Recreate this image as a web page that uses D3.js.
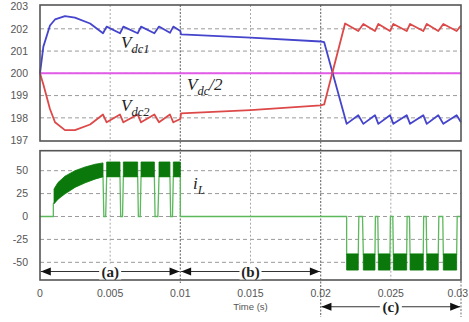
<!DOCTYPE html>
<html><head><meta charset="utf-8">
<script src="https://cdn.jsdelivr.net/npm/d3@7"></script>
<style>html,body{margin:0;padding:0;background:#fff;} svg{display:block;}</style>
</head><body>
<svg id="c" width="469" height="322"></svg>
<script>
// ---------- data ----------
const xTicks = [0, 0.005, 0.01, 0.015, 0.02, 0.025, 0.03];
const xTickLabels = ["0", "0.005", "0.01", "0.015", "0.02", "0.025", "0.03"];
const vTicks = [197, 198, 199, 200, 201, 202, 203];
const iTicks = [-50, -25, 0, 25, 50];

// Vdc1 (blue)
const v1T = [0, 0.00024, 0.00071, 0.00107, 0.00178, 0.00249, 0.00357, 0.00449, 0.00475, 0.0057, 0.00594, 0.00696, 0.0072, 0.00815, 0.00848, 0.00926, 0.0095, 0.0100, 0.01005, 0.015, 0.0200, 0.02025, 0.02185, 0.02268, 0.02304, 0.02387, 0.02411, 0.02494, 0.02518, 0.02613, 0.02637, 0.02731, 0.02756, 0.02838, 0.02874, 0.02969, 0.0300];
const v1 = [200, 201.2, 202.15, 202.42, 202.57, 202.5, 202.24, 201.8, 202.1, 201.8, 202.1, 201.8, 202.1, 201.8, 202.1, 201.82, 202.1, 201.9, 201.75, 201.6, 201.43, 201.4, 197.73, 198.12, 197.73, 198.12, 197.73, 198.12, 197.73, 198.12, 197.73, 198.12, 197.73, 198.12, 197.73, 198.12, 197.8];
// Vdc2 (red)
const v2T = [0, 0.00024, 0.00071, 0.00107, 0.00178, 0.00249, 0.00357, 0.00449, 0.00475, 0.0057, 0.00594, 0.00696, 0.0072, 0.00815, 0.00848, 0.00926, 0.0095, 0.0100, 0.01005, 0.015, 0.0200, 0.02025, 0.02174, 0.02268, 0.02304, 0.02387, 0.02411, 0.02494, 0.02518, 0.02613, 0.02637, 0.02731, 0.02756, 0.02838, 0.02874, 0.02969, 0.0300];
const v2 = [200, 199.5, 198.4, 197.8, 197.45, 197.45, 197.7, 198.15, 197.8, 198.15, 197.8, 198.15, 197.8, 198.15, 197.8, 198.15, 197.8, 197.95, 198.2, 198.35, 198.56, 198.6, 202.24, 201.9, 202.22, 201.9, 202.22, 201.9, 202.22, 201.9, 202.22, 201.9, 202.22, 201.9, 202.22, 201.9, 202.15];
// Vdc/2 (magenta)
const vHalfT = [0, 0.03];
const vHalf = [200, 200];

// iL switching band envelope (null = gap)
const bandT  = [0.00100, 0.00128, 0.00178, 0.00249, 0.00321, 0.00392, 0.00449, null, 0.00475, 0.0057, null, 0.00594, 0.00696, null, 0.0072, 0.00815, null, 0.00848, 0.00926, null, 0.0095, 0.0100, null,
                0.02185, 0.02268, null, 0.02304, 0.02387, null, 0.02411, 0.02494, null, 0.02518, 0.02613, null, 0.02637, 0.02731, null, 0.02756, 0.02838, null, 0.02874, 0.02969];
const bandHi = [30, 37, 44, 50, 54, 57, 58.5, null, 59.5, 59.5, null, 59.5, 59.5, null, 59.5, 59.5, null, 59.5, 59.5, null, 59.5, 59.5, null,
                -41, -41, null, -41, -41, null, -41, -41, null, -41, -41, null, -41, -41, null, -41, -41, null, -41, -41];
const bandLo = [14, 19, 25, 32, 37, 41, 43.5, null, 43.5, 43.5, null, 43.5, 43.5, null, 43.5, 43.5, null, 43.5, 43.5, null, 43.5, 43.5, null,
                -58.5, -58.5, null, -58.5, -58.5, null, -58.5, -58.5, null, -58.5, -58.5, null, -58.5, -58.5, null, -58.5, -58.5, null, -58.5, -58.5];
// iL outline trace (notches)
const iT = [0, 0.00095, 0.00095, 0.00128, 0.00178, 0.00249, 0.00321, 0.00392, 0.00449, 0.00455, 0.00468, 0.00475,
            0.0057, 0.00575, 0.00588, 0.00594, 0.00696, 0.00701, 0.00714, 0.0072, 0.00815, 0.0082, 0.0084, 0.00848,
            0.00926, 0.00931, 0.00944, 0.0095, 0.0100, 0.0100, 0.02185, 0.02185, 0.02268, 0.02272, 0.02298, 0.02304,
            0.02387, 0.0239, 0.02407, 0.02411, 0.02494, 0.02497, 0.02514, 0.02518, 0.02613, 0.02616, 0.02633, 0.02637,
            0.02731, 0.02734, 0.02752, 0.02756, 0.02838, 0.02842, 0.0287, 0.02874, 0.02969, 0.02973, 0.0300];
const iV = [0, 0, 14, 19, 25, 32, 37, 41, 43.5, 0, 0, 43.5,
            43.5, 0, 0, 43.5, 43.5, 0, 0, 43.5, 43.5, 0, 0, 43.5,
            43.5, 0, 0, 43.5, 43.5, 0, 0, -41, -41, 0, 0, -41,
            -41, 0, 0, -41, -41, 0, 0, -41, -41, 0, 0, -41,
            -41, 0, 0, -41, -41, 0, 0, -41, -41, 0, 0];

// section annotations
const secStart = [0, 0.01, 0.02];
const secEnd = [0.01, 0.02, 0.03];
const secLabels = ["(a)", "(b)", "(c)"];

// ---------- drawing ----------
const svg = d3.select("#c");
const x = d3.scaleLinear().domain([0, 0.03]).range([40, 461]);
const yV = d3.scaleLinear().domain([196.96, 203.07]).range([141, 5]);
const yI = d3.scaleLinear().domain([-69.3, 71.8]).range([280, 150.7]);

const sansFont = "'Liberation Sans', Arial, sans-serif";
const serifFont = "'Liberation Serif', 'Times New Roman', serif";

function hgrid(scale, ticks) {
  svg.append("g").selectAll("line").data(ticks).join("line")
    .attr("x1", x(0)).attr("x2", x(0.03))
    .attr("y1", d => scale(d)).attr("y2", d => scale(d))
    .attr("stroke", "#9a9a9a").attr("stroke-width", 1).attr("stroke-dasharray", "4,3");
}
hgrid(yV, vTicks.slice(1, -1));
hgrid(yI, iTicks);

// vertical grid (light)
[[yV, 203.07, 196.96], [yI, 71.8, -69.3]].forEach(([s, top, bot]) => {
  svg.append("g").selectAll("line").data([0.005, 0.015, 0.025]).join("line")
    .attr("x1", d => x(d)).attr("x2", d => x(d))
    .attr("y1", s(top)).attr("y2", s(bot))
    .attr("stroke", "#a8a8a8").attr("stroke-width", 1).attr("stroke-dasharray", "2,2");
});
// section separators (darker)
svg.append("line").attr("x1", x(0.01)).attr("x2", x(0.01)).attr("y1", yV(203.07)).attr("y2", 283)
  .attr("stroke", "#777").attr("stroke-width", 1.2).attr("stroke-dasharray", "2,1.5");
svg.append("line").attr("x1", x(0.02)).attr("x2", x(0.02)).attr("y1", yV(203.07)).attr("y2", 317)
  .attr("stroke", "#777").attr("stroke-width", 1.2).attr("stroke-dasharray", "2,1.5");
svg.append("line").attr("x1", x(0.03)).attr("x2", x(0.03)).attr("y1", 281).attr("y2", 317)
  .attr("stroke", "#888").attr("stroke-width", 1.2).attr("stroke-dasharray", "2,1.5");

// voltage lines
const mk = (T, V) => T.map((t, i) => [t, V[i]]);
const lineV = d3.line().x(d => x(d[0])).y(d => yV(d[1]));
svg.append("path").datum(mk(vHalfT, vHalf)).attr("d", lineV)
  .attr("fill", "none").attr("stroke", "#e25ae8").attr("stroke-width", 2);
svg.append("path").datum(mk(v1T, v1)).attr("d", lineV)
  .attr("fill", "none").attr("stroke", "#4444cc").attr("stroke-width", 1.8).attr("stroke-linejoin", "round");
svg.append("path").datum(mk(v2T, v2)).attr("d", lineV)
  .attr("fill", "none").attr("stroke", "#dd4848").attr("stroke-width", 1.8).attr("stroke-linejoin", "round");

// current
const lineI = d3.line().x(d => x(d[0])).y(d => yI(d[1]));
svg.append("path").datum(mk(iT, iV)).attr("d", lineI)
  .attr("fill", "none").attr("stroke", "#5cb85c").attr("stroke-width", 1.3);
const bandData = bandT.map((t, i) => ({t, hi: bandHi[i], lo: bandLo[i]}));
const areaI = d3.area().defined(d => d.t !== null)
  .x(d => x(d.t)).y0(d => yI(d.lo)).y1(d => yI(d.hi));
svg.append("path").datum(bandData).attr("d", areaI)
  .attr("fill", "#0a780a").attr("stroke", "#0a780a").attr("stroke-width", 0.8);

// frames
svg.append("rect").attr("x", x(0)).attr("y", yV(203.07)).attr("width", x(0.03) - x(0)).attr("height", yV(196.96) - yV(203.07))
  .attr("fill", "none").attr("stroke", "#555").attr("stroke-width", 1.6);
svg.append("rect").attr("x", x(0)).attr("y", yI(71.8)).attr("width", x(0.03) - x(0)).attr("height", yI(-69.3) - yI(71.8))
  .attr("fill", "none").attr("stroke", "#555").attr("stroke-width", 1.6);

// tick labels
svg.append("g").selectAll("text").data(vTicks).join("text")
  .attr("x", 28).attr("y", d => yV(d)).attr("dy", "0.36em").attr("text-anchor", "end")
  .attr("font-family", sansFont).attr("font-size", 10.5).attr("fill", "#555").text(d => d);
svg.append("g").selectAll("text").data(iTicks).join("text")
  .attr("x", 28).attr("y", d => yI(d)).attr("dy", "0.36em").attr("text-anchor", "end")
  .attr("font-family", sansFont).attr("font-size", 10.5).attr("fill", "#555").text(d => d);
const W = 469;
svg.append("g").selectAll("text").data(xTicks).join("text")
  .attr("x", (d, i) => i === xTicks.length - 1 ? W - 1 : x(d))
  .attr("y", 297)
  .attr("text-anchor", (d, i) => i === xTicks.length - 1 ? "end" : "middle")
  .attr("font-family", sansFont).attr("font-size", 10.5).attr("fill", "#555")
  .text((d, i) => xTickLabels[i]);
svg.append("text").attr("x", x(0.015)).attr("y", 310).attr("text-anchor", "middle")
  .attr("font-family", sansFont).attr("font-size", 9.5).attr("fill", "#555").text("Time (s)");

// series labels
function label(px, py, main, sub, rest) {
  const t = svg.append("text").attr("x", px).attr("y", py)
    .attr("font-family", serifFont).attr("font-style", "italic").attr("font-size", 17).attr("fill", "#222");
  t.append("tspan").text(main);
  t.append("tspan").attr("font-size", 12.5).attr("dy", 5).text(sub);
  if (rest) t.append("tspan").attr("dy", -5).text(rest);
}
label(121, 48, "V", "dc1");
label(121, 111, "V", "dc2");
label(187, 90, "V", "dc", "/2");
label(193, 189, "i", "L");

// section arrows
const arrowY = [271.5, 271.5, 306.7];
secLabels.forEach((lab, i) => {
  const a = x(secStart[i]) + 0.8, b = x(secEnd[i]) - 0.8, yy = arrowY[i];
  const g = svg.append("g");
  g.append("line").attr("x1", a).attr("x2", b).attr("y1", yy).attr("y2", yy)
    .attr("stroke", "#333").attr("stroke-width", 1.1);
  g.append("path").attr("d", `M${a},${yy}L${a + 10},${yy - 4}L${a + 10},${yy + 4}Z`).attr("fill", "#111");
  g.append("path").attr("d", `M${b},${yy}L${b - 10},${yy - 4}L${b - 10},${yy + 4}Z`).attr("fill", "#111");
  const cx = (a + b) / 2;
  g.append("rect").attr("x", cx - 11).attr("y", yy - 8).attr("width", 22).attr("height", 16).attr("fill", "#fff");
  g.append("text").attr("x", cx).attr("y", yy + 5).attr("text-anchor", "middle")
    .attr("font-family", serifFont).attr("font-weight", "bold").attr("font-size", 15).attr("fill", "#222").text(lab);
});
</script>
</body></html>
